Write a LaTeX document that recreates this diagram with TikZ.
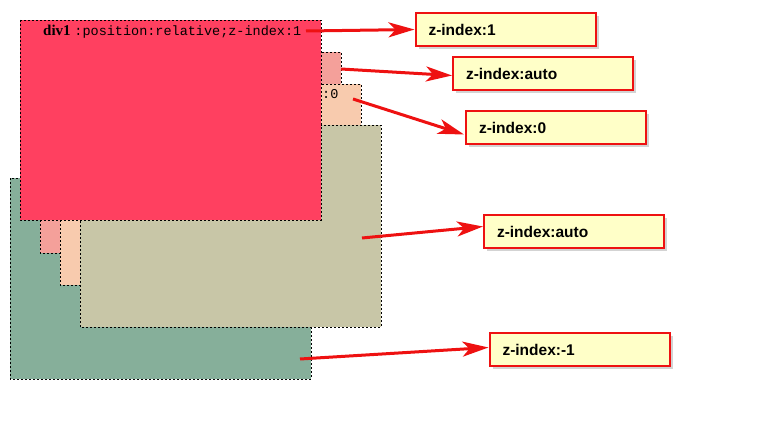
\documentclass[tikz,border=0pt]{standalone}
\usepackage{fontspec}
\setmainfont{Liberation Sans}
\newfontfamily\monof{Liberation Mono}
\newfontfamily\seriff{Liberation Serif}
\usetikzlibrary{arrows.meta,shadows}
\definecolor{cgreen}{HTML}{86AF9A}
\definecolor{csalmon}{HTML}{F4A09A}
\definecolor{cpeach}{HTML}{F8CBAE}
\definecolor{ckhaki}{HTML}{C8C6A7}
\definecolor{cred}{HTML}{FF4060}
\definecolor{cyel}{HTML}{FFFFC8}
\definecolor{carr}{HTML}{EE1111}
\tikzset{
 layer/.style={draw=black,line width=0.8pt,dash pattern=on 2pt off 2pt},
 lbl/.style={draw=carr,line width=2pt,fill=cyel,minimum width=180pt,minimum height=33pt,
   text width=154pt,align=left,inner xsep=13pt,
   font=\fontsize{15.5}{17}\selectfont,text=black,drop shadow={shadow xshift=3pt,shadow yshift=-3pt,opacity=0.35}},
 arr/.style={carr,line width=3pt,-{Stealth[length=26pt,width=15pt,inset=7pt]}}
}
\begin{document}
\begin{tikzpicture}[x=1pt,y=-1pt]
\useasboundingbox (0,0) rectangle (772,428);
\draw[layer,fill=cgreen] (10,178) rectangle (311,379);
\draw[layer,fill=csalmon] (40,52) rectangle (341,253);
\draw[layer,fill=cpeach] (60,84) rectangle (361,285);
\node[anchor=base west,font=\monof\fontsize{13.5}{15}\selectfont,inner sep=0] (t0) at (322,99) {:0};
\draw[layer,fill=ckhaki] (80,125) rectangle (381,327);
\draw[layer,fill=cred] (20,20) rectangle (321,220);
\node[anchor=base west,inner sep=0,font=\fontsize{13.5}{15}\selectfont] (t1) at (43,36) {{\seriff\bfseries\fontsize{15}{17}\selectfont div1 }{\monof:position:relative;z-index:1}};
\node[lbl] (l1) at (505.5,29.5) {\textbf{z-index:1}};
\node[lbl] (l2) at (543,73.5) {\textbf{z-index:auto}};
\node[lbl] (l3) at (556,127.5) {\textbf{z-index:0}};
\node[lbl] (l4) at (574,231.5) {\textbf{z-index:auto}};
\node[lbl] (l5) at (579.5,349.5) {\textbf{z-index:-1}};
\coordinate (s1) at (306,31);
\coordinate (s2) at (341,69);
\coordinate (s3) at (353,99);
\coordinate (s4) at (362,238);
\coordinate (s5) at (300,359);
\draw[arr] (s1) -- (l1.west);
\draw[arr] (s2) -- ([yshift=-2pt]l2.west);
\draw[arr] (s3) -- ([xshift=-1pt,yshift=-7pt]l3.west);
\draw[arr] (s4) -- ([yshift=5pt]l4.west);
\draw[arr] (s5) -- ([yshift=2pt]l5.west);
\end{tikzpicture}
\end{document}
